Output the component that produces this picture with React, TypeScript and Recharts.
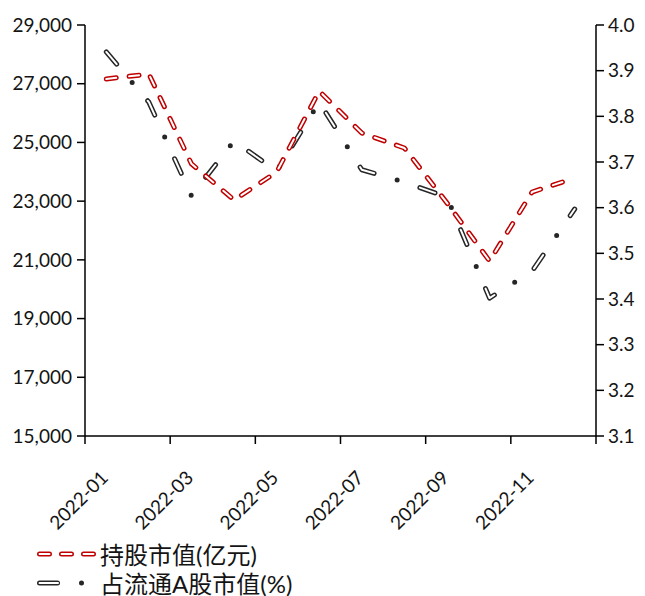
import { LineChart, Line, XAxis, YAxis, Legend } from "recharts";

const months = [
  "2022-01", "2022-02", "2022-03", "2022-04", "2022-05", "2022-06",
  "2022-07", "2022-08", "2022-09", "2022-10", "2022-11", "2022-12",
];
// 持股市值(亿元)
const holdingValue = [27160, 27330, 24270, 23040, 23990, 26750, 25320, 24810, 22940, 20960, 23310, 23790];
// 占流通A股市值(%)
const floatShare = [3.941, 3.831, 3.626, 3.746, 3.68, 3.831, 3.683, 3.656, 3.623, 3.402, 3.461, 3.597];

const leftTicks = [15000, 17000, 19000, 21000, 23000, 25000, 27000, 29000];
const rightTicks = [3.1, 3.2, 3.3, 3.4, 3.5, 3.6, 3.7, 3.8, 3.9, 4.0];

const W = 645;
const H = 596;
const LEFT_W = 85;
const RIGHT_W = 49;
const PLOT_W = W - LEFT_W - RIGHT_W;

const RED = "#c00000";
const DARK = "#262626";
const TEXT = "#141414";

const data = months.map((m, i) => ({ month: m, value: holdingValue[i], share: floatShare[i] }));

function MonthTick(props: any) {
  const { x, y, payload, index } = props;
  const half = PLOT_W / months.length / 2;
  const tx = x + 3;
  const ty = y + 43;
  return (
    <g>
      {index % 2 === 0 && (
        <line x1={x - half} x2={x - half} y1={y} y2={y + 8} stroke="#000" strokeWidth={1.5} />
      )}
      {index === months.length - 1 && (
        <line x1={x + half} x2={x + half} y1={y} y2={y + 8} stroke="#000" strokeWidth={1.5} />
      )}
      {index % 2 === 0 && (
        <text
          x={tx}
          y={ty}
          transform={`rotate(-45 ${tx} ${ty})`}
          textAnchor="end"
          fontSize={19}
          fill={TEXT}
        >
          {payload.value}
        </text>
      )}
    </g>
  );
}

function LegendBox() {
  return (
    <svg width={330} height={62}>
      <path d="M39.5,19 L95,19" stroke={RED} strokeWidth={5} strokeDasharray="10 12" strokeLinecap="round" fill="none" />
      <path d="M39.5,19 L95,19" stroke="#fff" strokeWidth={2} strokeDasharray="10 12" strokeLinecap="round" fill="none" />
      <text x={100} y={19} dominantBaseline="central" fontSize={24} fill={TEXT}>
        持股市值(亿元)
      </text>
      <path d="M39.5,48 L83,48" stroke={DARK} strokeWidth={5} strokeDasharray="18 24 0 100" strokeLinecap="round" fill="none" />
      <path d="M39.5,48 L58,48" stroke="#fff" strokeWidth={2} strokeLinecap="round" fill="none" />
      <text x={100} y={48} dominantBaseline="central" fontSize={24} fill={TEXT}>
        占流通A股市值(%)
      </text>
    </svg>
  );
}

export default function App() {
  const axisLine = { stroke: "#000", strokeWidth: 1.5 };
  const tickStyle = { fontSize: 19, fill: TEXT };
  return (
    <div
      style={{
        position: "absolute",
        left: 0,
        top: 0,
        width: W,
        height: H,
        background: "#fff",
        fontFamily: "Lato, 'Noto Sans CJK SC', sans-serif",
      }}
    >
      <LineChart width={W} height={H} data={data} margin={{ top: 25, right: 0, bottom: 0, left: 0 }}>
        <XAxis
          dataKey="month"
          scale="band"
          interval={0}
          height={160}
          tickSize={0}
          tickMargin={0}
          tickLine={false}
          axisLine={axisLine}
          tick={<MonthTick />}
        />
        <YAxis
          yAxisId="left"
          orientation="left"
          width={LEFT_W}
          domain={[15000, 29000]}
          ticks={leftTicks}
          tickFormatter={(v) => Number(v).toLocaleString("en-US")}
          tick={tickStyle}
          tickSize={8}
          tickMargin={5}
          tickLine={axisLine}
          axisLine={axisLine}
        />
        <YAxis
          yAxisId="right"
          orientation="right"
          width={RIGHT_W}
          domain={[3.1, 4.0]}
          ticks={rightTicks}
          tickFormatter={(v) => Number(v).toFixed(1)}
          tick={tickStyle}
          tickSize={8}
          tickMargin={4}
          tickLine={axisLine}
          axisLine={axisLine}
        />
        <Legend
          layout="horizontal"
          verticalAlign="middle"
          align="center"
          content={<LegendBox />}
          wrapperStyle={{ position: "absolute", left: 0, top: 535, width: 330, height: 62 }}
        />
        <Line
          yAxisId="right"
          dataKey="share"
          type="linear"
          stroke={DARK}
          strokeWidth={5}
          strokeDasharray="16 24 0 24"
          strokeLinecap="round"
          strokeLinejoin="round"
          dot={false}
          activeDot={false}
          isAnimationActive={false}
        />
        <Line
          yAxisId="right"
          dataKey="share"
          type="linear"
          stroke="#fff"
          strokeWidth={2}
          strokeDasharray="16 48"
          strokeLinecap="round"
          strokeLinejoin="round"
          dot={false}
          activeDot={false}
          isAnimationActive={false}
        />
        <Line
          yAxisId="left"
          dataKey="value"
          type="linear"
          stroke={RED}
          strokeWidth={5}
          strokeDasharray="10 13"
          strokeLinecap="round"
          strokeLinejoin="round"
          dot={false}
          activeDot={false}
          isAnimationActive={false}
        />
        <Line
          yAxisId="left"
          dataKey="value"
          type="linear"
          stroke="#fff"
          strokeWidth={2}
          strokeDasharray="10 13"
          strokeLinecap="round"
          strokeLinejoin="round"
          dot={false}
          activeDot={false}
          isAnimationActive={false}
        />
      </LineChart>
    </div>
  );
}
